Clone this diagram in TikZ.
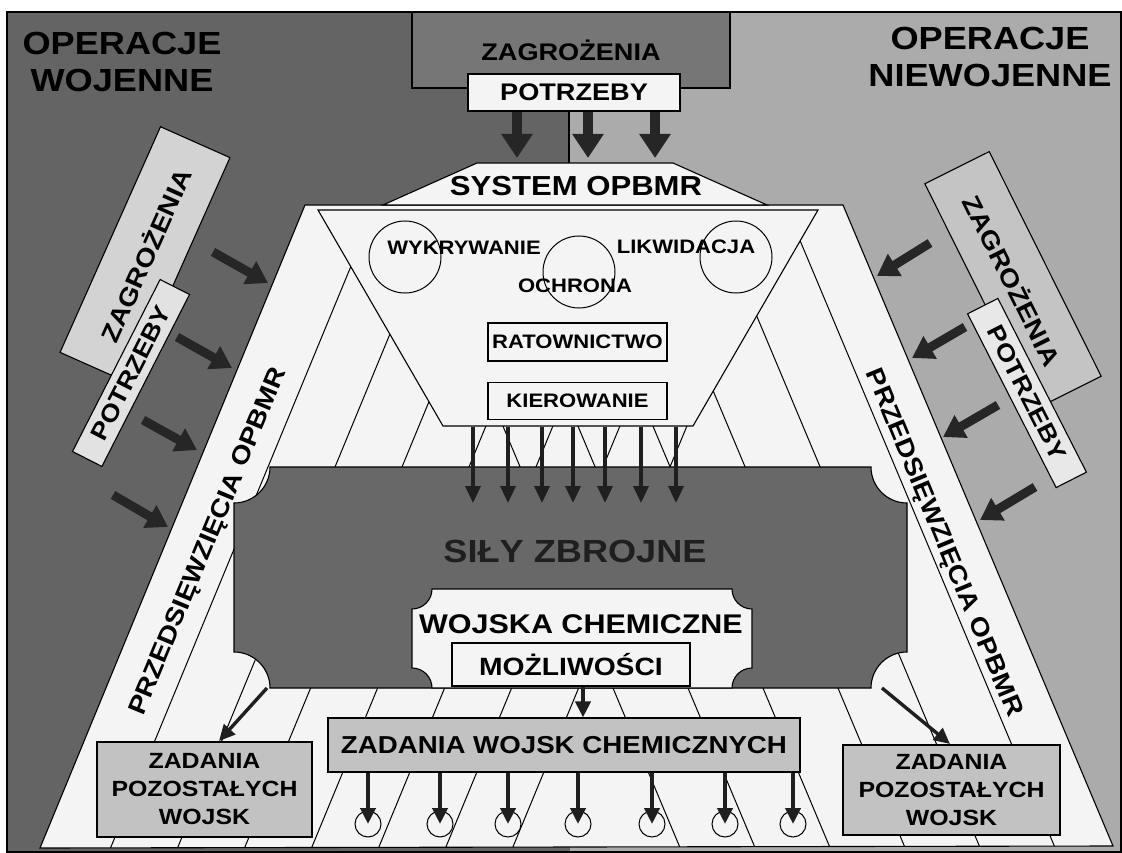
\documentclass[tikz,border=0pt]{standalone}
\usepackage{fontspec}
\setmainfont[FakeStretch=1.13]{Liberation Sans}
\usepackage{tikz}
\usepackage{xcolor}
\usetikzlibrary{arrows.meta,positioning,calc}

\definecolor{bgdark}{HTML}{646464}
\definecolor{bglight}{HTML}{ABABAB}
\definecolor{topbox}{HTML}{767676}
\definecolor{paper}{HTML}{F4F4F4}
\definecolor{silyc}{HTML}{686868}
\definecolor{greybox}{HTML}{C2C2C2}
\definecolor{zagl}{HTML}{D3D3D3}
\definecolor{potl}{HTML}{E2E2E2}
\definecolor{zagr}{HTML}{C4C4C4}
\definecolor{potr}{HTML}{E8E8E8}

\begin{document}
\begin{tikzpicture}[x=1pt, y=-1pt,
  >=Latex,
  every node/.style={inner sep=0pt},
  cbox/.style={draw, line width=1.1pt, fill=#1},
  lbl/.style={font=\bfseries\fontsize{#1}{#1}\selectfont},
  toparr/.style={line width=10pt, draw=black!85, -{Triangle[length=24pt,width=30pt]}},
  fatarr/.style={line width=9pt, draw=black!85, -{Triangle[length=21pt,width=25pt]}},
  smallarr/.style={line width=3.4pt, draw=black!88, -{Triangle[length=17pt,width=15pt]}},
  midarr/.style={line width=4pt, draw=black!88, -{Triangle[length=16pt,width=15pt]}}
]
\useasboundingbox (0,0) rectangle (1122,853);
\fill[white] (0,0) rectangle (1122,853);
\fill[bgdark] (7,12) rectangle (570,853);
\fill[bglight] (570,12) rectangle (1122,853);

\node[cbox=topbox, minimum width=318pt, minimum height=76pt, lbl=24] (zagrT) at (571,50) {ZAGROŻENIA};
\draw[line width=1.1pt] (569,88) -- (569,163);
\node[cbox=paper, minimum width=212pt, minimum height=37pt, lbl=24] (potrT) at (574,92.5) {POTRZEBY};
\foreach \x [count=\i] in {517,588,655}{\coordinate (t\i) at (\x,158); \draw[toparr] (potrT.south -| t\i) -- (t\i);}

\filldraw[fill=paper, line width=1.1pt] (305,205) -- (843,205) -- (1113,846) -- (40,848) -- cycle;
\begin{scope}
\clip (305,205) -- (843,205) -- (1113,846) -- (40,848) -- cycle;
\clip (0,211) rectangle (1122,853);
\foreach \k in {0,...,6}{\draw[line width=1pt] ({399+67*\k},150) -- ({89+67*\k},900);}
\foreach \k in {0,...,5}{\draw[line width=1pt] ({762-75*\k},150) -- ({1077-75*\k},900);}
\end{scope}

\filldraw[fill=paper, line width=1.1pt] (477,163) -- (673,163) -- (767,205) -- (383,205) -- cycle;
\node[lbl=27.5] (sys) at (576,186) {SYSTEM OPBMR};

\filldraw[fill=paper, line width=1.1pt] (318,210) -- (818,210) -- (693,426) -- (443,426) -- cycle;
\node[circle, draw, line width=1pt, minimum size=72pt] (cwyk) at (405,257) {};
\node[circle, draw, line width=1pt, minimum size=72pt] (coch) at (579,272) {};
\node[circle, draw, line width=1pt, minimum size=72pt] (clik) at (736,257) {};
\node[lbl=19.5] (wyk) at (464,248) {WYKRYWANIE};
\node[lbl=19.5] (lik) at (686,247) {LIKWIDACJA};
\node[lbl=19.5] (och) at (575,286) {OCHRONA};
\node[cbox=paper, minimum width=179pt, minimum height=38pt, lbl=19.5] (rat) at (577.5,342) {RATOWNICTWO};
\node[cbox=paper, minimum width=179pt, minimum height=37pt, lbl=19.5, below=20pt of rat] (kier) {KIEROWANIE};

\filldraw[line width=1.1pt, fill=silyc] (270,467) -- (871,467)
  arc[start angle=180, end angle=270, radius=36pt] -- (907,652)
  arc[start angle=90, end angle=180, radius=36pt] -- (270,688)
  arc[start angle=0, end angle=90, radius=36pt] -- (234,503)
  arc[start angle=270, end angle=360, radius=36pt] -- cycle;
\node[lbl=32, text=black!88] (sily) at (575,551) {SIŁY ZBROJNE};
\foreach \x [count=\i] in {473,508,542,573,605,641,676}{
  \coordinate (fa\i) at (\x,427); \coordinate (fb\i) at (\x,503);
  \draw[smallarr] (fa\i) -- (fb\i);}

\filldraw[line width=1.1pt, fill=paper] (432,589) -- (732,589)
  arc[start angle=180, end angle=270, radius=20pt] -- (752,668)
  arc[start angle=90, end angle=180, radius=20pt] -- (432,688)
  arc[start angle=0, end angle=90, radius=20pt] -- (412,609)
  arc[start angle=270, end angle=360, radius=20pt] -- cycle;
\node[lbl=27] (wch) at (581,624) {WOJSKA CHEMICZNE};
\node[cbox=paper, minimum width=238pt, minimum height=43pt, lbl=25] (mozl) at (571,664.5) {MOŻLIWOŚCI};
\node[cbox=greybox, minimum width=472pt, minimum height=54pt, lbl=24.5] (zwch) at (564,745) {ZADANIA WOJSK CHEMICZNYCH};
\coordinate (m1) at (583,0);
\draw[midarr] (mozl.south -| m1) -- (zwch.north -| m1);
\foreach \x [count=\i] in {368,440,508,578,652,725,793}{
  \node[circle, draw, line width=1pt, minimum size=26pt] (c\i) at (\x,824) {};
  \draw[midarr] (zwch.south -| c\i) -- (c\i.center);}

\node[cbox=greybox, minimum width=215pt, minimum height=95pt, align=center, font=\bfseries\fontsize{22}{28}\selectfont] (zpl) at (204.5,789.5) {ZADANIA\\POZOSTAŁYCH\\WOJSK};
\node[cbox=greybox, minimum width=217pt, minimum height=90pt, align=center, font=\bfseries\fontsize{22}{28}\selectfont] (zpr) at (951.5,790) {ZADANIA\\POZOSTAŁYCH\\WOJSK};
\coordinate (dl1) at (267,688); \coordinate (dl2) at (219,741);
\coordinate (dr1) at (882,688); \coordinate (dr2) at (950,744);
\draw[midarr, line width=3.4pt] (dl1) -- (dl2);
\draw[midarr, line width=3.4pt] (dr1) -- (dr2);

\node[lbl=25, rotate=67.5] (przL) at (209,542) {PRZEDSIĘWZIĘCIA OPBMR};
\node[lbl=25, rotate=-67.5] (przR) at (943,543) {PRZEDSIĘWZIĘCIA OPBMR};

\node[cbox=zagl, rotate=66, minimum width=247pt, minimum height=76pt, lbl=25] (zagrL) at (145,255) {ZAGROŻENIA};
\node[cbox=potl, rotate=63, minimum width=193pt, minimum height=33pt, lbl=24] (potrL) at (131,373) {POTRZEBY};
\node[cbox=zagr, rotate=-63.5, minimum width=251pt, minimum height=72pt, lbl=25] (zagrR) at (1013,280) {ZAGROŻENIA};
\node[cbox=potr, rotate=-63, minimum width=195pt, minimum height=34pt, lbl=24] (potrR) at (1027,393) {POTRZEBY};

\foreach \a/\b/\c/\d [count=\i] in {213/252/268/283, 177/337/232/368, 143/420/197/450, 113/495/168/527}{
  \coordinate (la\i) at (\a,\b); \coordinate (lb\i) at (\c,\d); \draw[fatarr] (la\i) -- (lb\i);}
\foreach \a/\b/\c/\d [count=\i] in {930/243/877/276, 965/327/912/358, 998/405/943/437, 1035/487/980/520}{
  \coordinate (ra\i) at (\a,\b); \coordinate (rb\i) at (\c,\d); \draw[fatarr] (ra\i) -- (rb\i);}

\node[align=center, font=\bfseries\fontsize{32}{37}\selectfont] (opw) at (122,62) {OPERACJE\\WOJENNE};
\node[align=center, font=\bfseries\fontsize{32}{37}\selectfont] (opn) at (990,57) {OPERACJE\\NIEWOJENNE};

\draw[line width=1.2pt] (7,12) rectangle (1121,852);
\end{tikzpicture}
\end{document}
